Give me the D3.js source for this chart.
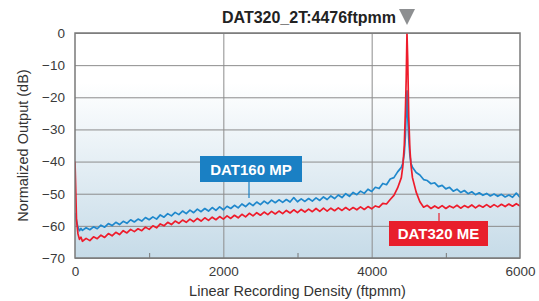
<!DOCTYPE html>
<html>
<head>
<meta charset="utf-8">
<script src="https://cdn.jsdelivr.net/npm/d3@7"></script>
<style>
  body { margin: 0; background: #fff; }
  text { font-family: "Liberation Sans", Arial, Helvetica, sans-serif; }
</style>
</head>
<body>
<div id="chart"></div>
<script>
// recording density positions (ftpmm), shared by both curves
const density = [0, 20, 40, 60, 80, 100,
  150, 200, 250, 300, 350, 400, 450, 500, 550, 600, 650, 700, 750, 800, 850, 900, 950, 1000,
  1050, 1100, 1150, 1200, 1250, 1300, 1350, 1400, 1450, 1500, 1550, 1600, 1650, 1700, 1750, 1800,
  1850, 1900, 1950, 2000, 2050, 2100, 2150, 2200, 2250, 2300, 2350, 2400, 2450, 2500, 2550, 2600,
  2650, 2700, 2750, 2800, 2850, 2900, 2950, 3000, 3050, 3100, 3150, 3200, 3250, 3300, 3350, 3400,
  3450, 3500, 3550, 3600, 3650, 3700, 3750, 3800, 3850, 3900, 3950, 4000, 4050, 4100, 4150, 4200,
  4250, 4300, 4350, 4400,
  4420, 4440, 4455, 4466, 4476, 4486, 4500, 4515, 4530, 4550,
  4600, 4650, 4700, 4750, 4800, 4850, 4900, 4950, 5000, 5050, 5100, 5150, 5200, 5250, 5300, 5350,
  5400, 5450, 5500, 5550, 5600, 5650, 5700, 5750, 5800, 5850, 5900, 5950, 6000];

// DAT160 MP output (dB)
const dat160 = [-56, -58.5, -60.5, -61.5, -60.8, -61.4,
  -60.6, -61.2, -60.3, -60.9, -59.8, -60.4, -59.3, -59.9, -58.9, -59.6, -58.6, -59.2, -58.1, -58.8, -57.9, -58.5, -57.4, -58.1,
  -57.2, -57.9, -56.6, -57.3, -56.2, -56.9, -55.8, -56.5, -55.4, -56.2, -55.1, -55.9, -54.8, -55.6, -54.6, -55.4,
  -54.3, -55.2, -54.1, -55.0, -53.9, -54.6, -53.6, -54.4, -53.2, -54.0, -52.9, -53.7, -52.6, -53.4, -52.3, -53.1,
  -52.0, -52.8, -51.9, -52.7, -51.8, -52.6, -51.2, -52.5, -51.6, -52.4, -51.5, -52.3, -51.3, -52.1, -51.0, -51.8,
  -50.7, -51.5, -50.4, -51.2, -50.0, -50.8, -49.6, -50.3, -49.2, -49.9, -48.6, -49.3, -48.0, -48.4, -46.8, -47.2,
  -45.4, -45.0, -43.2, -41.8,
  -40.5, -37.5, -32, -24, -18, -26, -33, -38, -40.5, -41.8,
  -43.4, -44.2, -45.6, -45.9, -46.9, -46.6, -47.8, -47.4, -48.5, -48.0, -49.2, -48.6, -49.6, -49.0, -50.0, -49.4,
  -50.3, -49.7, -50.5, -49.9, -50.7, -50.1, -50.8, -50.2, -51.0, -50.4, -51.1, -49.8, -51.2];

// DAT320 ME output (dB)
const dat320 = [-40, -58, -62.5, -64.2, -63.5, -64.8,
  -63.9, -64.6, -63.4, -64.0, -62.9, -63.6, -62.4, -63.1, -62.0, -62.7, -61.5, -62.2, -61.1, -61.8, -60.9, -61.5, -60.4, -61.1,
  -60.0, -60.6, -59.4, -60.0, -58.9, -59.6, -58.5, -59.2, -58.2, -58.9, -57.9, -58.7, -57.7, -58.5, -57.5, -58.3,
  -57.3, -58.1, -57.1, -57.9, -56.9, -57.7, -56.7, -57.5, -56.4, -57.2, -56.1, -56.9, -55.9, -56.7, -55.7, -56.5,
  -55.5, -56.3, -55.4, -56.2, -55.2, -56.0, -55.0, -55.9, -54.9, -55.7, -54.8, -55.6, -54.6, -55.5, -54.5, -55.4,
  -54.5, -55.3, -54.4, -55.2, -54.3, -55.1, -54.3, -55.0, -54.1, -54.9, -54.0, -54.7, -53.8, -54.2, -53.0, -53.2,
  -51.8, -50.5, -48.2, -45.0,
  -41.5, -35, -24, -14, 0, -8, -26, -36, -41, -45,
  -49.5, -52.5, -54.2, -53.6, -54.6, -53.8, -54.5, -53.7, -54.6, -53.8, -54.4, -53.6, -54.5, -53.7, -54.3, -53.5,
  -54.4, -53.6, -54.2, -53.4, -54.2, -53.4, -54.1, -53.3, -54.0, -53.2, -53.9, -53.1, -53.8];

const xTicks = [0, 2000, 4000, 6000];
const xMinorTicks = [1000, 3000, 5000];
const yTicks = [0, -10, -20, -30, -40, -50, -60, -70];
const markerDensity = 4476;

const margin = {top: 33, right: 19, bottom: 43, left: 75},
  width = 539 - margin.left - margin.right,
  height = 301 - margin.top - margin.bottom;

var svg = d3.select("#chart")
  .append("svg")
    .attr("width", 539)
    .attr("height", 301);

var g = svg.append("g")
  .attr("transform", "translate(" + margin.left + "," + margin.top + ")");

var x = d3.scaleLinear().domain([0, 6000]).range([0, width]);
var y = d3.scaleLinear().domain([-70, 0]).range([height, 0]);

// background gradient, white on top fading into pale blue
var defs = svg.append("defs");
var grad = defs.append("linearGradient")
  .attr("id", "bg")
  .attr("x1", 0).attr("y1", 0).attr("x2", 0).attr("y2", 1);
grad.append("stop").attr("offset", "0%").attr("stop-color", "#ffffff");
grad.append("stop").attr("offset", "22%").attr("stop-color", "#ffffff");
grad.append("stop").attr("offset", "100%").attr("stop-color", "#c6dbe8");

defs.append("clipPath").attr("id", "clip")
  .append("rect").attr("width", width).attr("height", height);

g.append("rect")
  .attr("width", width)
  .attr("height", height)
  .attr("fill", "url(#bg)");

// grid
g.append("g")
  .attr("class", "ygrid")
  .call(d3.axisLeft(y).tickValues(yTicks).tickSize(-width).tickFormat(""))
  .call(function(a) { a.select(".domain").remove(); })
  .selectAll("line")
    .attr("stroke", "#8c8c8c")
    .attr("stroke-width", 1);

g.append("g")
  .attr("class", "xgrid")
  .attr("transform", "translate(0," + height + ")")
  .call(d3.axisBottom(x).tickValues([2000, 4000]).tickSize(height).tickFormat(""))
  .call(function(a) { a.select(".domain").remove(); })
  .selectAll("line")
    .attr("stroke", "#8c8c8c")
    .attr("stroke-width", 1)
    .attr("transform", "translate(0," + (-height) + ")");

// small ticks at the odd thousands, pointing up
g.append("g")
  .attr("transform", "translate(0," + height + ")")
  .call(d3.axisTop(x).tickValues(xMinorTicks).tickSize(5).tickFormat(""))
  .call(function(a) { a.select(".domain").remove(); })
  .selectAll("line")
    .attr("stroke", "#777");

// curves
var line = d3.line()
  .x(function(d, i) { return x(density[i]); })
  .y(function(d) { return y(d); });

var curves = g.append("g").attr("clip-path", "url(#clip)");
curves.append("path")
  .datum(dat160)
  .attr("fill", "none")
  .attr("stroke", "#1f88cc")
  .attr("stroke-width", 1.7)
  .attr("stroke-linejoin", "round")
  .attr("d", line);
curves.append("path")
  .datum(dat320)
  .attr("fill", "none")
  .attr("stroke", "#ee1c2b")
  .attr("stroke-width", 1.7)
  .attr("stroke-linejoin", "round")
  .attr("d", line);

// frame
g.append("rect")
  .attr("width", width)
  .attr("height", height)
  .attr("fill", "none")
  .attr("stroke", "#7a7a7a")
  .attr("stroke-width", 1.5);

// tick labels
var yAxis = g.append("g")
  .call(d3.axisLeft(y).tickValues(yTicks).tickSize(0).tickPadding(10))
  .call(function(a) { a.select(".domain").remove(); });
yAxis.selectAll("text")
  .style("font-size", "13.5px")
  .attr("fill", "#3a3a3a");

var xAxis = g.append("g")
  .attr("transform", "translate(0," + height + ")")
  .call(d3.axisBottom(x).tickValues(xTicks).tickSize(0).tickPadding(8).tickFormat(d3.format("d")))
  .call(function(a) { a.select(".domain").remove(); });
xAxis.selectAll("text")
  .style("font-size", "13.5px")
  .attr("fill", "#3a3a3a");

// axis titles
svg.append("text")
  .attr("x", margin.left + width / 2)
  .attr("y", 296)
  .attr("text-anchor", "middle")
  .style("font-size", "14.5px")
  .attr("fill", "#333")
  .text("Linear Recording Density (ftpmm)");

svg.append("text")
  .attr("transform", "translate(28," + (margin.top + height / 2) + ") rotate(-90)")
  .attr("text-anchor", "middle")
  .style("font-size", "14.5px")
  .attr("fill", "#333")
  .text("Normalized Output (dB)");

// title with the marker triangle above the 2T peak
var mx = margin.left + x(markerDensity);
svg.append("text")
  .attr("x", mx - 11)
  .attr("y", 22.5)
  .attr("text-anchor", "end")
  .style("font-size", "16px")
  .style("font-weight", "bold")
  .attr("fill", "#222")
  .text("DAT320_2T:4476ftpmm");

svg.append("path")
  .attr("d", "M" + (mx - 8) + ",9 L" + (mx + 8) + ",9 L" + mx + ",25 Z")
  .attr("fill", "#8d8f91");

// callout labels
var labels = [
  {text: "DAT160 MP", color: "#1a80c4", x0: 200, y0: 156, w: 102, h: 26, lx: 249, ly: 198},
  {text: "DAT320 ME", color: "#e81f2c", x0: 389, y0: 221, w: 99, h: 25, lx: 439, ly: 213}
];

labels.forEach(function(l) {
  var ly0 = l.ly > l.y0 ? l.y0 + l.h : l.y0;
  svg.append("line")
    .attr("x1", l.lx).attr("x2", l.lx)
    .attr("y1", ly0).attr("y2", l.ly)
    .attr("stroke", l.color)
    .attr("stroke-width", 1.2);
  svg.append("rect")
    .attr("x", l.x0).attr("y", l.y0)
    .attr("width", l.w).attr("height", l.h)
    .attr("fill", l.color);
  svg.append("text")
    .attr("x", l.x0 + l.w / 2)
    .attr("y", l.y0 + l.h / 2 + 5.5)
    .attr("text-anchor", "middle")
    .style("font-size", "15px")
    .style("font-weight", "bold")
    .attr("fill", "#fff")
    .text(l.text);
});
</script>
</body>
</html>
